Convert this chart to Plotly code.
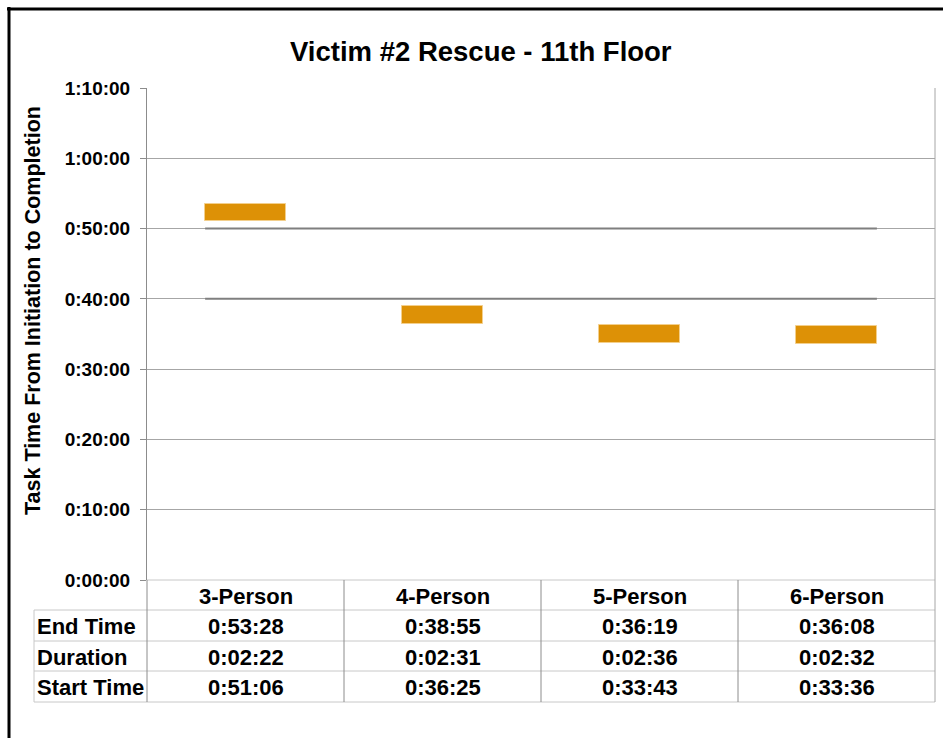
import plotly.graph_objects as go

# Rescue timing per crew size (h:mm:ss)
crews = ["3-Person", "4-Person", "5-Person", "6-Person"]
end_times = ["0:53:28", "0:38:55", "0:36:19", "0:36:08"]
durations = ["0:02:22", "0:02:31", "0:02:36", "0:02:32"]
start_times = ["0:51:06", "0:36:25", "0:33:43", "0:33:36"]
row_labels = ["End Time", "Duration", "Start Time"]
tick_labels = ["0:00:00", "0:10:00", "0:20:00", "0:30:00", "0:40:00",
               "0:50:00", "1:00:00", "1:10:00"]


def to_sec(s):
    h, m, sec = (int(v) for v in s.split(":"))
    return h * 3600 + m * 60 + sec


start_s = [to_sec(s) for s in start_times]
end_s = [to_sec(s) for s in end_times]
span_s = [e - s for s, e in zip(start_s, end_s)]
tick_vals = [to_sec(t) for t in tick_labels]

W, H = 943, 738
L, R, T, B = 147, 935, 88, 580  # plot area in pixels
FONT = "Liberation Sans, Arial, sans-serif"


def px(x):
    return (x - L) / (R - L)


def py(y):
    return (B - y) / (B - T)


BAR_W = 0.41

fig = go.Figure()
fig.add_trace(go.Bar(
    x=list(range(len(crews))),
    y=span_s,
    base=start_s,
    width=BAR_W,
    marker=dict(color="#DD9106", line=dict(color="#F3CF8C", width=1)),
    hoverinfo="skip",
    showlegend=False,
))

shapes = []
# darker reference lines at 0:40:00 and 0:50:00 spanning the bars
for t in ("0:40:00", "0:50:00"):
    shapes.append(dict(type="line", xref="x", yref="y",
                       x0=-BAR_W / 2, x1=len(crews) - 1 + BAR_W / 2,
                       y0=to_sec(t), y1=to_sec(t),
                       line=dict(color="#7F7F7F", width=2), layer="above"))

# data table under the plot
rows_y = [580, 610, 641, 671, 702]
cols_x = [147, 344, 541, 738, 935]
grid_c = "#C8C8C8"
div_c = "#8C8C8C"
for i, y in enumerate(rows_y):
    x0 = 147 if i == 0 else 34
    shapes.append(dict(type="line", xref="paper", yref="paper",
                       x0=px(x0), x1=px(935), y0=py(y), y1=py(y),
                       line=dict(color=grid_c, width=1)))
shapes.append(dict(type="line", xref="paper", yref="paper",
                   x0=px(34), x1=px(34), y0=py(610), y1=py(702),
                   line=dict(color=grid_c, width=1)))
for x in cols_x[:-1]:
    shapes.append(dict(type="line", xref="paper", yref="paper",
                       x0=px(x), x1=px(x), y0=py(580), y1=py(702),
                       line=dict(color=div_c, width=1)))
shapes.append(dict(type="line", xref="paper", yref="paper",
                   x0=px(935), x1=px(935), y0=py(88), y1=py(702),
                   line=dict(color="#A6A6A6", width=1)))

# outer chart frame (left and top edges)
shapes.append(dict(type="line", xref="paper", yref="paper",
                   x0=px(9), x1=px(9), y0=py(7), y1=py(740),
                   line=dict(color="#000000", width=3)))
shapes.append(dict(type="line", xref="paper", yref="paper",
                   x0=px(7), x1=px(945), y0=py(9), y1=py(9),
                   line=dict(color="#000000", width=3)))

ann = []
tfont = dict(family=FONT, size=22, color="#000000")
for i, name in enumerate(crews):
    cx = (cols_x[i] + cols_x[i + 1]) / 2
    cells = [name, end_times[i], durations[i], start_times[i]]
    for j, txt in enumerate(cells):
        cy = (rows_y[j] + rows_y[j + 1]) / 2 + 1
        ann.append(dict(x=px(cx), y=py(cy), xref="paper", yref="paper",
                        text="<b>%s</b>" % txt, showarrow=False,
                        xanchor="center", yanchor="middle", font=tfont))
for j, lab in enumerate(row_labels):
    cy = (rows_y[j + 1] + rows_y[j + 2]) / 2 + 1
    ann.append(dict(x=px(35), y=py(cy), xref="paper", yref="paper",
                    text="<b>%s</b>" % lab, showarrow=False,
                    xanchor="left", yanchor="middle", font=tfont))

# y-axis title
ann.append(dict(x=px(33), y=py(311), xref="paper", yref="paper",
                text="<b>Task Time From Initiation to Completion</b>",
                textangle=-90, showarrow=False,
                xanchor="center", yanchor="middle",
                font=dict(family=FONT, size=21.5, color="#000000")))
# chart title
ann.append(dict(x=px(481), y=py(52), xref="paper", yref="paper",
                text="<b>Victim #2 Rescue - 11th Floor</b>", showarrow=False,
                xanchor="center", yanchor="middle",
                font=dict(family=FONT, size=27.5, color="#000000")))

fig.update_layout(
    width=W, height=H,
    margin=dict(l=L, r=W - R, t=T, b=H - B, pad=0),
    paper_bgcolor="#FFFFFF", plot_bgcolor="#FFFFFF",
    shapes=shapes, annotations=ann,
    bargap=0,
    xaxis=dict(range=[-0.5, len(crews) - 0.5], showticklabels=False,
               showgrid=False, zeroline=False, showline=False,
               fixedrange=True),
    yaxis=dict(range=[0, tick_vals[-1]], tickvals=tick_vals,
               ticktext=["<b>%s</b>" % t for t in tick_labels],
               tickfont=dict(family=FONT, size=19, color="#000000"),
               showgrid=True, gridcolor="#A6A6A6", gridwidth=1,
               zeroline=False, showline=True, linecolor="#8C8C8C",
               ticks="outside", ticklen=6, tickcolor="#8C8C8C",
               ticklabelstandoff=6, fixedrange=True),
)

fig.write_html("out.html")
